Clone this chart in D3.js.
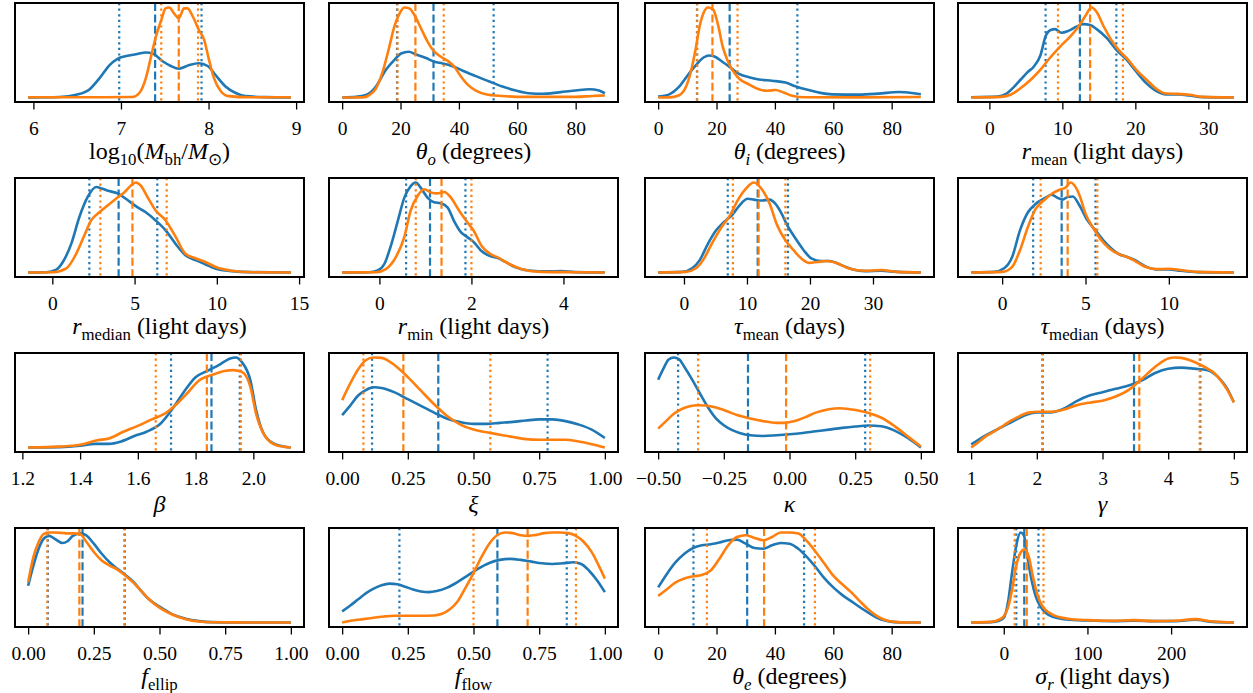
<!DOCTYPE html>
<html>
<head>
<meta charset="utf-8">
<script src="https://cdn.jsdelivr.net/npm/d3@7"></script>
<style>
body { margin: 0; background: #fff; }
svg text { font-family: "Liberation Serif", "Times New Roman", serif; fill: #000; }
</style>
</head>
<body>
<svg id="main" width="1253" height="693"></svg>
<script>
// ---- data: [x, relative density] ----
var mbhBlue = [[5.94,0],[6.30,0.005],[6.49,0.03],[6.64,0.09],[6.76,0.22],[6.87,0.36],[6.96,0.43],[7.06,0.46],[7.17,0.48],[7.29,0.50],[7.36,0.49],[7.48,0.40],[7.57,0.35],[7.66,0.32],[7.78,0.36],[7.89,0.38],[7.99,0.35],[8.08,0.25],[8.19,0.125],[8.31,0.05],[8.42,0.015],[8.65,0.004],[8.94,0]];
var mbhOrange = [[5.94,0.003],[6.8,0.003],[7.13,0.005],[7.21,0.05],[7.29,0.235],[7.34,0.44],[7.40,0.68],[7.46,0.86],[7.51,0.99],[7.55,1.0],[7.61,0.93],[7.66,0.88],[7.72,0.99],[7.76,0.99],[7.82,0.9],[7.89,0.75],[7.95,0.64],[8.0,0.44],[8.06,0.22],[8.14,0.07],[8.23,0.015],[8.46,0.002],[8.94,0.002]];
var mbhBlueQ = [6.98, 7.39, 7.92];
var mbhOrangeQ = [7.46, 7.66, 7.88];
var mbhTicks = [6, 7, 8, 9];

var thetaOBlue = [[0,0.003],[4.8,0.01],[8.2,0.03],[11.6,0.125],[15,0.31],[17.9,0.42],[20.2,0.49],[22.8,0.51],[25.3,0.48],[28.7,0.44],[31.6,0.40],[34.4,0.38],[37.8,0.35],[41.3,0.30],[45.8,0.24],[50.4,0.18],[54.9,0.125],[59.5,0.08],[64,0.05],[68.6,0.044],[74.3,0.06],[80,0.08],[84.6,0.095],[88,0.08],[90,0.05]];
var thetaOOrange = [[0,0.003],[7,0.004],[9.3,0.03],[11.6,0.105],[13.9,0.29],[16.2,0.57],[17.9,0.79],[19.6,0.93],[21.3,1.0],[23,0.99],[24.7,0.92],[27,0.77],[29.3,0.62],[31.6,0.51],[33.8,0.455],[36.1,0.41],[38.4,0.345],[40.7,0.235],[43,0.145],[45.8,0.08],[49.2,0.04],[54.9,0.02],[62.9,0.01],[80,0.01],[85.7,0.02],[90,0.025]];
var thetaOBlueQ = [18.8, 31.3, 51.9];
var thetaOOrangeQ = [19.0, 25.1, 34.8];
var thetaOTicks = [0, 20, 40, 60, 80];

var thetaIBlue = [[0,0.015],[3.8,0.04],[7.2,0.125],[10.6,0.27],[13.4,0.38],[15.7,0.45],[17.4,0.47],[19.1,0.46],[22,0.40],[24.8,0.335],[27.7,0.265],[31.1,0.23],[34.5,0.205],[39,0.19],[43.6,0.17],[47,0.13],[50.5,0.095],[55,0.06],[59.6,0.04],[68.7,0.037],[75.5,0.048],[82.4,0.066],[86.9,0.055],[90,0.04]];
var thetaIOrange = [[0,0.005],[3.8,0.006],[7.2,0.03],[9.5,0.12],[11.2,0.29],[12.9,0.55],[14.2,0.79],[15.7,0.95],[17.1,1.0],[18.8,0.98],[20.5,0.81],[22.1,0.57],[23.7,0.42],[25.4,0.31],[27.7,0.215],[31.1,0.15],[34.5,0.095],[37.4,0.08],[40.2,0.088],[43,0.06],[45.9,0.025],[50.5,0.007],[68.7,0.006],[90,0.01]];
var thetaIBlueQ = [13.3, 24.5, 47.7];
var thetaIOrangeQ = [13.4, 18.6, 27.2];
var thetaITicks = [0, 20, 40, 60, 80];

var rMeanBlue = [[-2.5,0.003],[1.1,0.01],[2.3,0.04],[3.4,0.12],[4.3,0.2],[5.2,0.28],[6.1,0.345],[7.0,0.47],[7.7,0.68],[8.4,0.75],[9.0,0.76],[9.9,0.72],[10.8,0.74],[12.0,0.79],[12.9,0.815],[13.8,0.805],[14.7,0.76],[16.1,0.66],[17.4,0.53],[18.8,0.42],[20.1,0.29],[21.5,0.16],[22.9,0.07],[24.2,0.033],[26,0.033],[27.4,0.022],[29.2,0.004],[33.5,0]];
var rMeanOrange = [[-2.5,0],[1.6,0.007],[2.9,0.03],[4.3,0.105],[5.7,0.2],[7.0,0.31],[8.4,0.45],[9.7,0.565],[11.1,0.68],[12.2,0.785],[13.1,0.9],[14.0,1.0],[14.7,0.95],[15.6,0.80],[16.7,0.64],[17.8,0.52],[19.0,0.42],[20.1,0.31],[21.5,0.2],[22.9,0.095],[24.2,0.044],[25.8,0.04],[27.4,0.03],[29.2,0.007],[33.5,0]];
var rMeanBlueQ = [7.7, 12.4, 17.4];
var rMeanOrangeQ = [9.4, 13.8, 18.3];
var rMeanTicks = [0, 10, 20, 30];

var rMedianBlue = [[-1.47,0.003],[-0.36,0.006],[0.24,0.035],[0.64,0.12],[1.15,0.32],[1.65,0.62],[2.15,0.84],[2.66,0.95],[3.06,0.93],[3.46,0.905],[3.97,0.88],[4.47,0.82],[5.1,0.735],[5.68,0.67],[6.28,0.58],[6.89,0.47],[7.49,0.32],[8.09,0.195],[8.7,0.14],[9.3,0.095],[9.9,0.048],[10.9,0.018],[12.1,0.007],[14.5,0.003]];
var rMedianOrange = [[-1.47,0.003],[0.04,0.006],[0.85,0.048],[1.45,0.21],[1.95,0.415],[2.36,0.58],[2.86,0.67],[3.36,0.745],[3.87,0.82],[4.37,0.89],[4.77,0.965],[5.07,1.0],[5.38,0.965],[5.78,0.84],[6.28,0.69],[6.89,0.58],[7.49,0.4],[8.09,0.21],[8.7,0.16],[9.3,0.12],[9.9,0.066],[10.9,0.022],[12.1,0.006],[14.5,0.003]];
var rMedianBlueQ = [2.25, 4.03, 6.38];
var rMedianOrangeQ = [2.92, 4.87, 6.95];
var rMedianTicks = [0, 5, 10, 15];

var rMinBlue = [[-0.81,0.003],[-0.22,0.006],[-0.04,0.025],[0.11,0.1],[0.25,0.3],[0.40,0.575],[0.54,0.83],[0.68,0.96],[0.79,1.0],[0.90,0.94],[1.05,0.83],[1.19,0.78],[1.33,0.77],[1.48,0.725],[1.62,0.575],[1.77,0.45],[1.91,0.395],[2.05,0.34],[2.20,0.25],[2.38,0.19],[2.56,0.165],[2.74,0.12],[2.95,0.063],[3.24,0.025],[3.68,0.015],[3.96,0.018],[4.25,0.007],[4.9,0.003]];
var rMinOrange = [[-0.81,0.003],[-0.07,0.006],[0.14,0.04],[0.36,0.175],[0.54,0.395],[0.68,0.69],[0.83,0.85],[0.97,0.925],[1.12,0.89],[1.26,0.88],[1.41,0.895],[1.55,0.835],[1.73,0.69],[1.91,0.56],[2.05,0.465],[2.23,0.29],[2.41,0.21],[2.59,0.165],[2.81,0.1],[3.10,0.04],[3.53,0.01],[4.25,0.006],[4.9,0.003]];
var rMinBlueQ = [0.58, 1.10, 1.87];
var rMinOrangeQ = [0.79, 1.35, 2.0];
var rMinTicks = [0, 2, 4];

var tauMeanBlue = [[-4.1,0.003],[-0.3,0.01],[1.3,0.05],[2.5,0.14],[3.8,0.32],[5.1,0.47],[6.3,0.56],[7.6,0.635],[8.8,0.745],[10.1,0.82],[11.1,0.81],[12.3,0.80],[13.6,0.81],[14.5,0.765],[15.5,0.655],[16.4,0.525],[17.7,0.38],[19.0,0.25],[20.2,0.16],[21.8,0.13],[23.1,0.13],[25.0,0.085],[26.8,0.037],[28.7,0.018],[31.3,0.022],[33.8,0.01],[37.6,0.003]];
var tauMeanOrange = [[-4.1,0.003],[0.3,0.01],[1.9,0.05],[3.2,0.16],[4.4,0.32],[6.0,0.51],[7.3,0.635],[8.5,0.8],[9.8,0.93],[11.1,1.0],[12.3,0.93],[13.6,0.765],[14.8,0.525],[16.1,0.36],[17.4,0.25],[18.6,0.16],[19.9,0.11],[21.2,0.12],[22.7,0.13],[24.3,0.105],[26.2,0.048],[28.7,0.022],[31.3,0.03],[33.8,0.01],[37.6,0.003]];
var tauMeanBlueQ = [6.95, 11.7, 16.5];
var tauMeanOrangeQ = [7.77, 11.85, 16.1];
var tauMeanTicks = [0, 10, 20, 30];

var tauMedianBlue = [[-1.86,0.003],[-0.48,0.01],[0.12,0.05],[0.6,0.175],[1.07,0.47],[1.55,0.67],[2.02,0.765],[2.5,0.82],[2.98,0.865],[3.33,0.83],[3.62,0.81],[3.93,0.84],[4.24,0.845],[4.64,0.745],[5.12,0.58],[5.6,0.47],[6.07,0.36],[6.55,0.27],[7.02,0.205],[7.5,0.175],[7.98,0.14],[8.57,0.074],[9.29,0.037],[10.0,0.037],[10.7,0.022],[11.7,0.007],[13.9,0.003]];
var tauMedianOrange = [[-1.86,0.003],[0,0.01],[0.6,0.066],[1.07,0.25],[1.55,0.51],[2.02,0.71],[2.5,0.8],[2.98,0.875],[3.45,0.92],[3.81,0.945],[4.1,1.0],[4.33,0.97],[4.64,0.86],[5.0,0.655],[5.48,0.49],[5.95,0.36],[6.43,0.27],[7.02,0.205],[7.5,0.175],[7.98,0.13],[8.57,0.066],[9.29,0.04],[10.0,0.044],[10.7,0.03],[11.7,0.01],[13.9,0.003]];
var tauMedianBlueQ = [1.86, 3.57, 5.6];
var tauMedianOrangeQ = [2.31, 3.93, 5.71];
var tauMedianTicks = [0, 5, 10];

var betaBlue = [[1.22,0],[1.33,0.004],[1.40,0.02],[1.45,0.04],[1.50,0.04],[1.54,0.065],[1.59,0.13],[1.63,0.175],[1.68,0.27],[1.72,0.43],[1.76,0.62],[1.80,0.78],[1.84,0.85],[1.88,0.915],[1.92,0.99],[1.94,1.0],[1.96,0.95],[1.99,0.745],[2.01,0.41],[2.04,0.13],[2.08,0.03],[2.13,0]];
var betaOrange = [[1.22,0],[1.33,0.01],[1.40,0.03],[1.46,0.08],[1.50,0.1],[1.55,0.175],[1.60,0.24],[1.65,0.315],[1.69,0.37],[1.73,0.47],[1.77,0.6],[1.81,0.74],[1.86,0.81],[1.90,0.85],[1.93,0.86],[1.96,0.84],[1.99,0.67],[2.01,0.37],[2.04,0.13],[2.08,0.025],[2.13,0]];
var betaBlueQ = [1.715, 1.855, 1.953];
var betaOrangeQ = [1.662, 1.839, 1.957];
var betaTicks = [1.2, 1.4, 1.6, 1.8, 2.0];

var xiBlue = [[0,0.363],[0.03,0.465],[0.06,0.577],[0.09,0.64],[0.12,0.67],[0.15,0.663],[0.2,0.614],[0.25,0.539],[0.3,0.464],[0.35,0.39],[0.4,0.322],[0.45,0.285],[0.5,0.266],[0.55,0.266],[0.6,0.277],[0.65,0.288],[0.7,0.303],[0.75,0.315],[0.8,0.315],[0.85,0.296],[0.9,0.258],[0.95,0.202],[1.0,0.109]];
var xiOrange = [[0,0.528],[0.03,0.708],[0.06,0.865],[0.09,0.97],[0.12,1.0],[0.15,0.996],[0.2,0.914],[0.25,0.783],[0.3,0.633],[0.35,0.483],[0.4,0.352],[0.45,0.258],[0.5,0.202],[0.55,0.172],[0.6,0.146],[0.65,0.12],[0.7,0.097],[0.75,0.09],[0.8,0.09],[0.85,0.09],[0.9,0.071],[0.95,0.041],[1.0,0.004]];
var xiBlueQ = [0.114, 0.366, 0.782];
var xiOrangeQ = [0.081, 0.233, 0.564];
var xiTicks = [0, 0.25, 0.5, 0.75, 1];

var kappaBlue = [[-0.5,0.753],[-0.48,0.876],[-0.46,0.978],[-0.44,1.0],[-0.42,0.98],[-0.40,0.895],[-0.37,0.753],[-0.34,0.596],[-0.31,0.446],[-0.28,0.326],[-0.25,0.251],[-0.22,0.199],[-0.19,0.165],[-0.15,0.139],[-0.1,0.131],[-0.05,0.139],[0,0.15],[0.05,0.165],[0.1,0.184],[0.15,0.202],[0.2,0.221],[0.25,0.236],[0.3,0.247],[0.35,0.24],[0.4,0.191],[0.45,0.109],[0.5,0.004]];
var kappaOrange = [[-0.5,0.213],[-0.47,0.296],[-0.44,0.378],[-0.41,0.43],[-0.38,0.46],[-0.35,0.472],[-0.32,0.468],[-0.28,0.446],[-0.24,0.408],[-0.2,0.363],[-0.15,0.326],[-0.1,0.296],[-0.05,0.277],[-0.02,0.277],[0.02,0.296],[0.06,0.34],[0.1,0.39],[0.15,0.427],[0.19,0.438],[0.23,0.427],[0.27,0.408],[0.31,0.378],[0.35,0.333],[0.4,0.24],[0.45,0.127],[0.5,0.015]];
var kappaBlueQ = [-0.424, -0.158, 0.288];
var kappaOrangeQ = [-0.348, -0.013, 0.307];
var kappaTicks = [-0.5, -0.25, 0, 0.25, 0.5];

var gammaBlue = [[1.0,0.034],[1.1,0.079],[1.2,0.127],[1.3,0.165],[1.4,0.202],[1.5,0.24],[1.6,0.277],[1.7,0.315],[1.8,0.352],[1.9,0.378],[2.0,0.39],[2.2,0.39],[2.4,0.427],[2.6,0.513],[2.8,0.577],[3.0,0.614],[3.2,0.652],[3.4,0.689],[3.6,0.745],[3.8,0.828],[4.0,0.876],[4.2,0.888],[4.4,0.876],[4.6,0.858],[4.7,0.82],[4.8,0.753],[4.9,0.652],[5.0,0.502]];
var gammaOrange = [[1.0,0],[1.1,0.052],[1.2,0.112],[1.3,0.157],[1.4,0.202],[1.5,0.247],[1.6,0.296],[1.7,0.333],[1.8,0.37],[1.9,0.39],[2.0,0.397],[2.2,0.397],[2.4,0.42],[2.6,0.468],[2.8,0.498],[3.0,0.52],[3.2,0.566],[3.4,0.64],[3.6,0.764],[3.8,0.895],[4.0,0.989],[4.1,1.0],[4.2,0.996],[4.4,0.95],[4.6,0.876],[4.7,0.828],[4.8,0.745],[4.9,0.64],[5.0,0.502]];
var gammaBlueQ = [2.09, 3.48, 4.49];
var gammaOrangeQ = [2.08, 3.56, 4.48];
var gammaTicks = [1, 2, 3, 4, 5];

var fEllipBlue = [[0,0.408],[0.02,0.633],[0.04,0.82],[0.06,0.933],[0.08,0.963],[0.1,0.933],[0.13,0.884],[0.15,0.903],[0.17,0.963],[0.2,0.99],[0.22,0.97],[0.25,0.876],[0.28,0.764],[0.31,0.67],[0.34,0.596],[0.37,0.528],[0.4,0.453],[0.43,0.352],[0.46,0.258],[0.5,0.176],[0.55,0.09],[0.6,0.041],[0.65,0.015],[0.7,0.004],[0.8,0.001],[1.0,0]];
var fEllipOrange = [[0,0.446],[0.02,0.727],[0.04,0.895],[0.06,0.985],[0.08,1.0],[0.1,1.0],[0.13,0.995],[0.15,0.99],[0.17,0.99],[0.2,0.978],[0.22,0.903],[0.25,0.783],[0.28,0.689],[0.31,0.633],[0.34,0.588],[0.37,0.52],[0.4,0.446],[0.43,0.352],[0.46,0.258],[0.5,0.165],[0.55,0.086],[0.6,0.037],[0.65,0.011],[0.7,0.003],[0.8,0.001],[1.0,0]];
var fEllipBlueQ = [0.075, 0.207, 0.368];
var fEllipOrangeQ = [0.073, 0.195, 0.366];
var fEllipTicks = [0, 0.25, 0.5, 0.75, 1];

var fFlowBlue = [[0,0.127],[0.03,0.19],[0.06,0.258],[0.09,0.326],[0.12,0.378],[0.15,0.416],[0.18,0.434],[0.21,0.427],[0.24,0.4],[0.27,0.37],[0.30,0.348],[0.33,0.34],[0.36,0.352],[0.40,0.39],[0.44,0.453],[0.48,0.528],[0.52,0.603],[0.56,0.663],[0.60,0.697],[0.64,0.708],[0.68,0.697],[0.72,0.678],[0.76,0.659],[0.80,0.652],[0.84,0.659],[0.88,0.67],[0.91,0.652],[0.94,0.577],[0.97,0.472],[1.0,0.34]];
var fFlowOrange = [[0,0.004],[0.04,0.026],[0.08,0.041],[0.12,0.056],[0.16,0.071],[0.2,0.079],[0.25,0.079],[0.3,0.079],[0.35,0.082],[0.38,0.1],[0.41,0.15],[0.44,0.24],[0.47,0.39],[0.50,0.55],[0.53,0.727],[0.56,0.876],[0.59,0.97],[0.62,1.0],[0.65,0.993],[0.68,0.97],[0.71,0.963],[0.74,0.974],[0.77,0.993],[0.80,1.0],[0.83,1.0],[0.86,0.993],[0.89,0.963],[0.92,0.895],[0.95,0.783],[0.98,0.614],[1.0,0.49]];
var fFlowBlueQ = [0.218, 0.591, 0.855];
var fFlowOrangeQ = [0.5, 0.706, 0.89];
var fFlowTicks = [0, 0.25, 0.5, 0.75, 1];

var thetaEBlue = [[0,0.39],[3,0.54],[6,0.67],[9,0.764],[12,0.828],[15,0.858],[18,0.869],[21,0.888],[24,0.914],[27,0.921],[30,0.876],[33,0.828],[36,0.82],[39,0.858],[42,0.884],[45,0.876],[48,0.82],[51,0.727],[54,0.614],[57,0.49],[60,0.39],[63,0.307],[66,0.24],[69,0.172],[72,0.109],[75,0.052],[78,0.019],[81,0.004],[85,0],[90,0]];
var thetaEOrange = [[0,0.296],[3,0.37],[6,0.446],[9,0.49],[12,0.513],[15,0.528],[18,0.577],[21,0.708],[24,0.858],[27,0.95],[30,0.97],[33,0.94],[36,0.914],[39,0.95],[42,1.0],[45,1.0],[48,0.989],[51,0.903],[54,0.783],[57,0.652],[60,0.52],[63,0.427],[66,0.34],[69,0.24],[72,0.146],[75,0.071],[78,0.026],[81,0.007],[85,0],[90,0]];
var thetaEBlueQ = [12.1, 30.5, 50.0];
var thetaEOrangeQ = [16.7, 36.3, 53.7];
var thetaETicks = [0, 20, 40, 60, 80];

var sigmaRBlue = [[-39,0],[-15,0.004],[-5,0.022],[0,0.052],[5,0.22],[10,0.56],[15,0.858],[20,1.0],[24,0.97],[28,0.745],[33,0.483],[38,0.296],[43,0.191],[50,0.109],[60,0.06],[75,0.034],[100,0.022],[130,0.015],[155,0.019],[180,0.015],[205,0.015],[228,0.03],[250,0.007],[275,0]];
var sigmaROrange = [[-39,0],[-15,0.007],[-5,0.034],[0,0.07],[5,0.165],[10,0.37],[15,0.633],[20,0.775],[25,0.813],[30,0.727],[35,0.502],[40,0.315],[45,0.202],[50,0.139],[60,0.079],[75,0.045],[100,0.026],[130,0.019],[155,0.026],[180,0.015],[205,0.019],[228,0.037],[250,0.011],[275,0]];
var sigmaRBlueQ = [15, 24.5, 41.5];
var sigmaROrangeQ = [13, 27.5, 47.5];
var sigmaRTicks = [0, 100, 200];

(function () {
var svgMain = d3.select('#main');

// grid layout
var colLeft = [15, 329, 645, 958];
var rowTop = [3, 178, 353, 528];
var boxW = 289;
var boxH = 99;

var blueColor = '#1f77b4';
var orangeColor = '#ff7f0e';

var tickFont = 19.5;
var labelFont = 24;

// axis label pieces: t = text, it = italic, sub = subscript
function lab(t, it, sub) { return {t: t, it: !!it, sub: !!sub}; }

var panels = [
  {blue: mbhBlue, orange: mbhOrange, bq: mbhBlueQ, oq: mbhOrangeQ, ticks: mbhTicks, fmt: 'd',
   label: [lab('log'), lab('10', 0, 1), lab('('), lab('M', 1), lab('bh', 0, 1), lab('/'), lab('M', 1), lab('\u2299', 0, 1), lab(')')]},
  {blue: thetaOBlue, orange: thetaOOrange, bq: thetaOBlueQ, oq: thetaOOrangeQ, ticks: thetaOTicks, fmt: 'd',
   label: [lab('\u03b8', 1), lab('o', 1, 1), lab(' (degrees)')]},
  {blue: thetaIBlue, orange: thetaIOrange, bq: thetaIBlueQ, oq: thetaIOrangeQ, ticks: thetaITicks, fmt: 'd',
   label: [lab('\u03b8', 1), lab('i', 1, 1), lab(' (degrees)')]},
  {blue: rMeanBlue, orange: rMeanOrange, bq: rMeanBlueQ, oq: rMeanOrangeQ, ticks: rMeanTicks, fmt: 'd',
   label: [lab('r', 1), lab('mean', 0, 1), lab(' (light days)')]},
  {blue: rMedianBlue, orange: rMedianOrange, bq: rMedianBlueQ, oq: rMedianOrangeQ, ticks: rMedianTicks, fmt: 'd',
   label: [lab('r', 1), lab('median', 0, 1), lab(' (light days)')]},
  {blue: rMinBlue, orange: rMinOrange, bq: rMinBlueQ, oq: rMinOrangeQ, ticks: rMinTicks, fmt: 'd',
   label: [lab('r', 1), lab('min', 0, 1), lab(' (light days)')]},
  {blue: tauMeanBlue, orange: tauMeanOrange, bq: tauMeanBlueQ, oq: tauMeanOrangeQ, ticks: tauMeanTicks, fmt: 'd',
   label: [lab('\u03c4', 1), lab('mean', 0, 1), lab(' (days)')]},
  {blue: tauMedianBlue, orange: tauMedianOrange, bq: tauMedianBlueQ, oq: tauMedianOrangeQ, ticks: tauMedianTicks, fmt: 'd',
   label: [lab('\u03c4', 1), lab('median', 0, 1), lab(' (days)')]},
  {blue: betaBlue, orange: betaOrange, bq: betaBlueQ, oq: betaOrangeQ, ticks: betaTicks, fmt: '.1f',
   label: [lab('\u03b2', 1)], greek: true},
  {blue: xiBlue, orange: xiOrange, bq: xiBlueQ, oq: xiOrangeQ, ticks: xiTicks, fmt: '.2f',
   label: [lab('\u03be', 1)], greek: true},
  {blue: kappaBlue, orange: kappaOrange, bq: kappaBlueQ, oq: kappaOrangeQ, ticks: kappaTicks, fmt: '.2f',
   label: [lab('\u03ba', 1)], greek: true},
  {blue: gammaBlue, orange: gammaOrange, bq: gammaBlueQ, oq: gammaOrangeQ, ticks: gammaTicks, fmt: 'd',
   label: [lab('\u03b3', 1)], greek: true},
  {blue: fEllipBlue, orange: fEllipOrange, bq: fEllipBlueQ, oq: fEllipOrangeQ, ticks: fEllipTicks, fmt: '.2f',
   label: [lab('f', 1), lab('ellip', 0, 1)]},
  {blue: fFlowBlue, orange: fFlowOrange, bq: fFlowBlueQ, oq: fFlowOrangeQ, ticks: fFlowTicks, fmt: '.2f',
   label: [lab('f', 1), lab('flow', 0, 1)]},
  {blue: thetaEBlue, orange: thetaEOrange, bq: thetaEBlueQ, oq: thetaEOrangeQ, ticks: thetaETicks, fmt: 'd',
   label: [lab('\u03b8', 1), lab('e', 1, 1), lab(' (degrees)')]},
  {blue: sigmaRBlue, orange: sigmaROrange, bq: sigmaRBlueQ, oq: sigmaROrangeQ, ticks: sigmaRTicks, fmt: 'd',
   label: [lab('\u03c3', 1), lab('r', 1, 1), lab(' (light days)')]}
];

// matplotlib-style 5% margins around the data
function padded(ext) {
  var p = (ext[1] - ext[0]) * 0.05;
  return [ext[0] - p, ext[1] + p];
}

function drawSeries(g, pts, q, color, x, y) {
  var line = d3.line()
    .x(function(d) { return x(d[0]); })
    .y(function(d) { return y(d[1]); })
    .curve(d3.curveMonotoneX);

  g.append('path')
    .datum(pts)
    .attr('d', line)
    .attr('fill', 'none')
    .attr('stroke', color)
    .attr('stroke-width', 2.6)
    .attr('stroke-linejoin', 'round');

  g.selectAll(null)
    .data(q)
    .enter()
    .append('line')
    .attr('x1', function(d) { return x(d); })
    .attr('x2', function(d) { return x(d); })
    .attr('y1', 0)
    .attr('y2', boxH)
    .attr('stroke', color)
    .attr('stroke-width', 2.2)
    .attr('stroke-dasharray', function(d, i) {
      return i === 1 ? '8,3.4' : '2.2,3.4';
    });
}

function drawLabel(g, segs, cx, cy) {
  var text = g.append('text')
    .attr('x', cx)
    .attr('y', cy)
    .attr('text-anchor', 'middle')
    .style('white-space', 'pre')
    .style('font-size', labelFont + 'px');
  var shift = 0;
  segs.forEach(function(s) {
    var ts = text.append('tspan').text(s.t);
    var want = s.sub ? labelFont * 0.24 : 0;
    if (want !== shift) {
      ts.attr('dy', want - shift);
      shift = want;
    }
    if (s.sub) ts.style('font-size', (labelFont * 0.7) + 'px');
    if (s.it) ts.style('font-style', 'italic');
  });
}

panels.forEach(function(p, i) {
  var col = i % 4;
  var row = Math.floor(i / 4);
  var g = svgMain.append('g')
    .attr('transform', 'translate(' + colLeft[col] + ',' + rowTop[row] + ')');

  var all = p.blue.concat(p.orange);
  var x = d3.scaleLinear()
    .domain(padded(d3.extent(all, function(d) { return d[0]; })))
    .range([0, boxW]);
  var y = d3.scaleLinear()
    .domain(padded(d3.extent(all, function(d) { return d[1]; })))
    .range([boxH, 0]);

  drawSeries(g, p.blue, p.bq, blueColor, x, y);
  drawSeries(g, p.orange, p.oq, orangeColor, x, y);

  g.append('rect')
    .attr('width', boxW)
    .attr('height', boxH)
    .attr('fill', 'none')
    .attr('stroke', '#000')
    .attr('stroke-width', 2);

  var axis = d3.axisBottom(x)
    .tickValues(p.ticks)
    .tickFormat(d3.format(p.fmt))
    .tickSizeInner(6.5)
    .tickSizeOuter(0)
    .tickPadding(11.5);

  var ag = g.append('g')
    .attr('transform', 'translate(0,' + (boxH + 1) + ')')
    .call(axis);
  ag.select('.domain').remove();
  ag.selectAll('.tick line').attr('stroke', '#000').attr('stroke-width', 1.3);
  ag.selectAll('.tick text')
    .attr('fill', '#000')
    .style('font-family', '"Liberation Serif", "Times New Roman", serif')
    .style('font-size', tickFont + 'px');

  drawLabel(g, p.label, boxW / 2, boxH + (p.greek ? 60 : 57));
});
})();
</script>
</body>
</html>
